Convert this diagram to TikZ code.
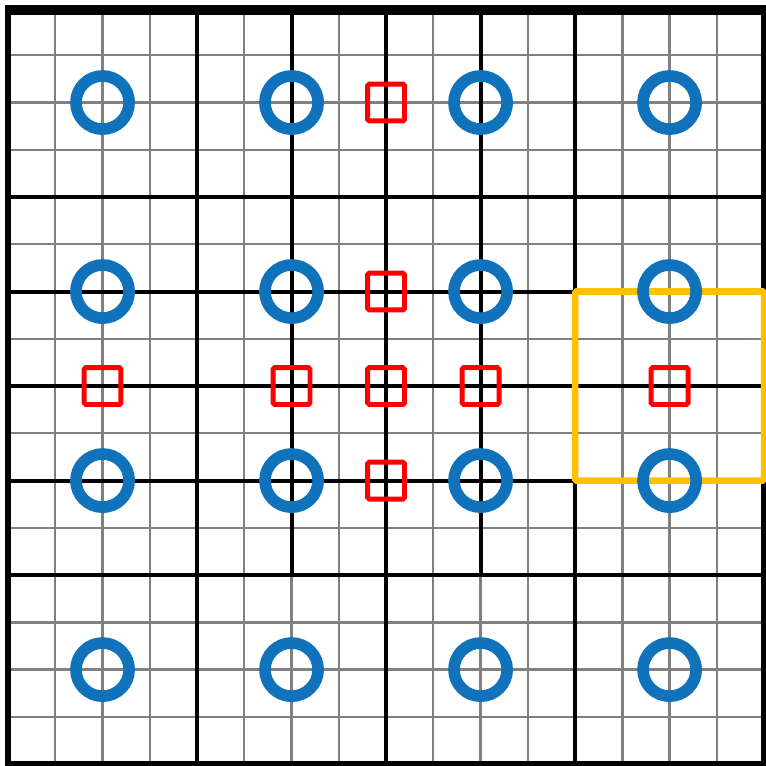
\documentclass[tikz,border=0pt]{standalone}
\usepackage{tikz}
\usetikzlibrary{positioning}
\definecolor{ringblue}{RGB}{16,114,186}
\definecolor{boxyellow}{RGB}{255,192,0}

\begin{document}
\begin{tikzpicture}[x=1cm, y=1cm]
\useasboundingbox (-0.17,-0.04) rectangle (16.04,16.17);

% fine grid
\draw[gray, line width=1.4pt] (0,0) grid (16,16);

% coarse lines
\draw[-, line width=2.4pt] (4,0) -- (4,16);
\draw[-, line width=2.4pt] (8,0) -- (8,16);
\draw[-, line width=2.4pt] (12,0) -- (12,16);
\draw[-, line width=2.4pt] (0,4) -- (16,4);
\draw[-, line width=2.4pt] (0,12) -- (16,12);
\draw[-, line width=2.4pt] (0,8) -- (16,8);
\draw[-, line width=2.4pt] (6,4) -- (6,16);
\draw[-, line width=2.4pt] (10,4) -- (10,16);
\draw[-, line width=2.4pt] (0,10) -- (12,10);
\draw[-, line width=2.4pt] (0,6) -- (12,6);

% frame
\draw[line width=3.6pt] (0,0) rectangle (16,16);
\draw[line width=6pt] (0,15.96) -- (16,15.96);

% highlighted cell
\draw[boxyellow, line width=4pt, rounded corners=1pt] (12,6) rectangle (16,10);

\begin{scope}[every node/.style={rectangle, draw=red, line width=3pt, rounded corners=1pt, minimum size=0.78cm, inner sep=0pt}]
    \node (s1) at (8,14) {};
    \node (s2) at (8,10) {};
    \node (s3) at (2,8) {};
    \node (s4) at (6,8) {};
    \node (s5) at (8,8) {};
    \node (s6) at (10,8) {};
    \node (s7) at (8,6) {};
    \node (s8) at (14,8) {};
\end{scope}

\begin{scope}[every node/.style={circle, draw=ringblue, line width=7pt, minimum size=1.126cm, inner sep=0pt}]
    \node (1) at (2,14) {};
    \node (2) at (6,14) {};
    \node (3) at (10,14) {};
    \node (4) at (14,14) {};
    \node (5) at (2,10) {};
    \node (6) at (6,10) {};
    \node (7) at (10,10) {};
    \node (8) at (14,10) {};
    \node (9) at (2,6) {};
    \node (10) at (6,6) {};
    \node (11) at (10,6) {};
    \node (12) at (14,6) {};
    \node (13) at (2,2) {};
    \node (14) at (6,2) {};
    \node (15) at (10,2) {};
    \node (16) at (14,2) {};
\end{scope}
\end{tikzpicture}
\end{document}
